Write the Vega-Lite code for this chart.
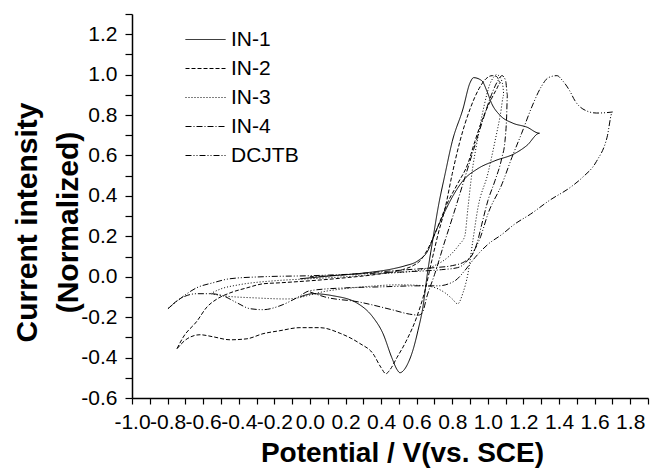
{
  "$schema": "https://vega.github.io/schema/vega-lite/v6.json",
  "width": 516,
  "height": 384,
  "autosize": "none",
  "padding": {"left": 132, "top": 14, "right": 2, "bottom": 70},
  "background": "white",
  "config": {"view": {"stroke": null}, "font": "Liberation Sans"},
  "datasets": {
    "cv": [
      {"s":"IN-1","o":1,"x":-0.056,"y":-0.01},{"s":"IN-1","o":2,"x":0.13,"y":0.005},{"s":"IN-1","o":3,"x":0.32,"y":0.02},{"s":"IN-1","o":4,"x":0.47,"y":0.04},{"s":"IN-1","o":5,"x":0.534,"y":0.054},{"s":"IN-1","o":6,"x":0.607,"y":0.079},{"s":"IN-1","o":7,"x":0.663,"y":0.129},{"s":"IN-1","o":8,"x":0.702,"y":0.213},{"s":"IN-1","o":9,"x":0.742,"y":0.292},{"s":"IN-1","o":10,"x":0.798,"y":0.391},{"s":"IN-1","o":11,"x":0.86,"y":0.475},{"s":"IN-1","o":12,"x":0.944,"y":0.535},{"s":"IN-1","o":13,"x":1.04,"y":0.574},{"s":"IN-1","o":14,"x":1.15,"y":0.609},{"s":"IN-1","o":15,"x":1.22,"y":0.65},{"s":"IN-1","o":16,"x":1.29,"y":0.71},{"s":"IN-1","o":17,"x":1.22,"y":0.74},{"s":"IN-1","o":18,"x":1.14,"y":0.76},{"s":"IN-1","o":19,"x":1.067,"y":0.8},{"s":"IN-1","o":20,"x":1.022,"y":0.856},{"s":"IN-1","o":21,"x":0.994,"y":0.92},{"s":"IN-1","o":22,"x":0.966,"y":0.97},{"s":"IN-1","o":23,"x":0.92,"y":0.985},{"s":"IN-1","o":24,"x":0.9,"y":0.96},{"s":"IN-1","o":25,"x":0.86,"y":0.83},{"s":"IN-1","o":26,"x":0.8,"y":0.67},{"s":"IN-1","o":27,"x":0.76,"y":0.51},{"s":"IN-1","o":28,"x":0.72,"y":0.34},{"s":"IN-1","o":29,"x":0.69,"y":0.18},{"s":"IN-1","o":30,"x":0.66,"y":0.015},{"s":"IN-1","o":31,"x":0.635,"y":-0.15},{"s":"IN-1","o":32,"x":0.607,"y":-0.267},{"s":"IN-1","o":33,"x":0.58,"y":-0.36},{"s":"IN-1","o":34,"x":0.55,"y":-0.43},{"s":"IN-1","o":35,"x":0.525,"y":-0.465},{"s":"IN-1","o":36,"x":0.506,"y":-0.475},{"s":"IN-1","o":37,"x":0.49,"y":-0.46},{"s":"IN-1","o":38,"x":0.46,"y":-0.4},{"s":"IN-1","o":39,"x":0.41,"y":-0.28},{"s":"IN-1","o":40,"x":0.354,"y":-0.2},{"s":"IN-1","o":41,"x":0.264,"y":-0.13},{"s":"IN-1","o":42,"x":0.129,"y":-0.094},{"s":"IN-1","o":43,"x":0.017,"y":-0.084},{"s":"IN-1","o":44,"x":-0.056,"y":-0.1},

      {"s":"IN-2","o":1,"x":-0.747,"y":-0.356},{"s":"IN-2","o":2,"x":-0.713,"y":-0.3},{"s":"IN-2","o":3,"x":-0.635,"y":-0.22},{"s":"IN-2","o":4,"x":-0.579,"y":-0.15},{"s":"IN-2","o":5,"x":-0.522,"y":-0.11},{"s":"IN-2","o":6,"x":-0.449,"y":-0.08},{"s":"IN-2","o":7,"x":-0.354,"y":-0.055},{"s":"IN-2","o":8,"x":-0.264,"y":-0.035},{"s":"IN-2","o":9,"x":-0.169,"y":-0.03},{"s":"IN-2","o":10,"x":0.0,"y":-0.02},{"s":"IN-2","o":11,"x":0.2,"y":-0.005},{"s":"IN-2","o":12,"x":0.4,"y":0.015},{"s":"IN-2","o":13,"x":0.52,"y":0.035},{"s":"IN-2","o":14,"x":0.58,"y":0.055},{"s":"IN-2","o":15,"x":0.62,"y":0.08},{"s":"IN-2","o":16,"x":0.67,"y":0.15},{"s":"IN-2","o":17,"x":0.72,"y":0.25},{"s":"IN-2","o":18,"x":0.77,"y":0.36},{"s":"IN-2","o":19,"x":0.83,"y":0.46},{"s":"IN-2","o":20,"x":0.888,"y":0.56},{"s":"IN-2","o":21,"x":0.927,"y":0.67},{"s":"IN-2","o":22,"x":0.97,"y":0.78},{"s":"IN-2","o":23,"x":1.02,"y":0.88},{"s":"IN-2","o":24,"x":1.05,"y":0.93},{"s":"IN-2","o":25,"x":1.07,"y":0.96},{"s":"IN-2","o":26,"x":1.05,"y":0.99},{"s":"IN-2","o":27,"x":1.025,"y":0.995},{"s":"IN-2","o":28,"x":0.99,"y":0.98},{"s":"IN-2","o":29,"x":0.95,"y":0.93},{"s":"IN-2","o":30,"x":0.9,"y":0.83},{"s":"IN-2","o":31,"x":0.843,"y":0.67},{"s":"IN-2","o":32,"x":0.8,"y":0.51},{"s":"IN-2","o":33,"x":0.76,"y":0.34},{"s":"IN-2","o":34,"x":0.72,"y":0.21},{"s":"IN-2","o":35,"x":0.685,"y":0.08},{"s":"IN-2","o":36,"x":0.646,"y":-0.07},{"s":"IN-2","o":37,"x":0.6,"y":-0.2},{"s":"IN-2","o":38,"x":0.54,"y":-0.32},{"s":"IN-2","o":39,"x":0.489,"y":-0.4},{"s":"IN-2","o":40,"x":0.45,"y":-0.46},{"s":"IN-2","o":41,"x":0.427,"y":-0.48},{"s":"IN-2","o":42,"x":0.4,"y":-0.45},{"s":"IN-2","o":43,"x":0.354,"y":-0.38},{"s":"IN-2","o":44,"x":0.28,"y":-0.33},{"s":"IN-2","o":45,"x":0.17,"y":-0.28},{"s":"IN-2","o":46,"x":0.056,"y":-0.252},{"s":"IN-2","o":47,"x":-0.056,"y":-0.252},{"s":"IN-2","o":48,"x":-0.169,"y":-0.267},{"s":"IN-2","o":49,"x":-0.264,"y":-0.282},{"s":"IN-2","o":50,"x":-0.354,"y":-0.307},{"s":"IN-2","o":51,"x":-0.449,"y":-0.312},{"s":"IN-2","o":52,"x":-0.545,"y":-0.297},{"s":"IN-2","o":53,"x":-0.618,"y":-0.287},{"s":"IN-2","o":54,"x":-0.69,"y":-0.307},{"s":"IN-2","o":55,"x":-0.747,"y":-0.356},

      {"s":"IN-3","o":1,"x":-0.56,"y":-0.084},{"s":"IN-3","o":2,"x":-0.5,"y":-0.06},{"s":"IN-3","o":3,"x":-0.4,"y":-0.04},{"s":"IN-3","o":4,"x":-0.2,"y":-0.02},{"s":"IN-3","o":5,"x":0.0,"y":-0.01},{"s":"IN-3","o":6,"x":0.2,"y":0.0},{"s":"IN-3","o":7,"x":0.4,"y":0.015},{"s":"IN-3","o":8,"x":0.6,"y":0.03},{"s":"IN-3","o":9,"x":0.7,"y":0.055},{"s":"IN-3","o":10,"x":0.78,"y":0.1},{"s":"IN-3","o":11,"x":0.84,"y":0.16},{"s":"IN-3","o":12,"x":0.87,"y":0.2},{"s":"IN-3","o":13,"x":0.888,"y":0.34},{"s":"IN-3","o":14,"x":0.91,"y":0.51},{"s":"IN-3","o":15,"x":0.94,"y":0.67},{"s":"IN-3","o":16,"x":0.98,"y":0.85},{"s":"IN-3","o":17,"x":1.01,"y":0.95},{"s":"IN-3","o":18,"x":1.035,"y":0.99},{"s":"IN-3","o":19,"x":1.05,"y":1.0},{"s":"IN-3","o":20,"x":1.07,"y":0.985},{"s":"IN-3","o":21,"x":1.085,"y":0.94},{"s":"IN-3","o":22,"x":1.09,"y":0.9},{"s":"IN-3","o":23,"x":1.07,"y":0.8},{"s":"IN-3","o":24,"x":1.04,"y":0.67},{"s":"IN-3","o":25,"x":1.0,"y":0.51},{"s":"IN-3","o":26,"x":0.944,"y":0.34},{"s":"IN-3","o":27,"x":0.916,"y":0.18},{"s":"IN-3","o":28,"x":0.888,"y":0.015},{"s":"IN-3","o":29,"x":0.86,"y":-0.08},{"s":"IN-3","o":30,"x":0.83,"y":-0.134},{"s":"IN-3","o":31,"x":0.8,"y":-0.11},{"s":"IN-3","o":32,"x":0.76,"y":-0.08},{"s":"IN-3","o":33,"x":0.72,"y":-0.06},{"s":"IN-3","o":34,"x":0.65,"y":-0.045},{"s":"IN-3","o":35,"x":0.5,"y":-0.04},{"s":"IN-3","o":36,"x":0.3,"y":-0.05},{"s":"IN-3","o":37,"x":0.1,"y":-0.07},{"s":"IN-3","o":38,"x":-0.13,"y":-0.11},{"s":"IN-3","o":39,"x":-0.3,"y":-0.105},{"s":"IN-3","o":40,"x":-0.49,"y":-0.094},{"s":"IN-3","o":41,"x":-0.56,"y":-0.084},

      {"s":"IN-4","o":1,"x":0.0,"y":-0.075},{"s":"IN-4","o":2,"x":0.084,"y":-0.1},{"s":"IN-4","o":3,"x":0.27,"y":-0.124},{"s":"IN-4","o":4,"x":0.46,"y":-0.163},{"s":"IN-4","o":5,"x":0.56,"y":-0.185},{"s":"IN-4","o":6,"x":0.61,"y":-0.19},{"s":"IN-4","o":7,"x":0.63,"y":-0.18},{"s":"IN-4","o":8,"x":0.66,"y":-0.09},{"s":"IN-4","o":9,"x":0.7,"y":0.01},{"s":"IN-4","o":10,"x":0.73,"y":0.094},{"s":"IN-4","o":11,"x":0.747,"y":0.144},{"s":"IN-4","o":12,"x":0.8,"y":0.29},{"s":"IN-4","o":13,"x":0.86,"y":0.46},{"s":"IN-4","o":14,"x":0.92,"y":0.63},{"s":"IN-4","o":15,"x":0.97,"y":0.77},{"s":"IN-4","o":16,"x":1.02,"y":0.9},{"s":"IN-4","o":17,"x":1.05,"y":0.96},{"s":"IN-4","o":18,"x":1.08,"y":0.995},{"s":"IN-4","o":19,"x":1.1,"y":0.97},{"s":"IN-4","o":20,"x":1.11,"y":0.9},{"s":"IN-4","o":21,"x":1.105,"y":0.78},{"s":"IN-4","o":22,"x":1.096,"y":0.67},{"s":"IN-4","o":23,"x":1.079,"y":0.59},{"s":"IN-4","o":24,"x":1.04,"y":0.475},{"s":"IN-4","o":25,"x":1.0,"y":0.376},{"s":"IN-4","o":26,"x":0.966,"y":0.26},{"s":"IN-4","o":27,"x":0.938,"y":0.163},{"s":"IN-4","o":28,"x":0.916,"y":0.114},{"s":"IN-4","o":29,"x":0.87,"y":0.075},{"s":"IN-4","o":30,"x":0.8,"y":0.055},{"s":"IN-4","o":31,"x":0.7,"y":0.045},{"s":"IN-4","o":32,"x":0.55,"y":0.035},{"s":"IN-4","o":33,"x":0.4,"y":0.025},{"s":"IN-4","o":34,"x":0.2,"y":0.01},{"s":"IN-4","o":35,"x":0.0,"y":0.0},

      {"s":"DCJTB","o":1,"x":-0.798,"y":-0.158},{"s":"DCJTB","o":2,"x":-0.73,"y":-0.109},{"s":"DCJTB","o":3,"x":-0.635,"y":-0.054},{"s":"DCJTB","o":4,"x":-0.545,"y":-0.03},{"s":"DCJTB","o":5,"x":-0.45,"y":-0.01},{"s":"DCJTB","o":6,"x":-0.264,"y":0.0},{"s":"DCJTB","o":7,"x":0.0,"y":0.005},{"s":"DCJTB","o":8,"x":0.3,"y":0.015},{"s":"DCJTB","o":9,"x":0.55,"y":0.025},{"s":"DCJTB","o":10,"x":0.74,"y":0.035},{"s":"DCJTB","o":11,"x":0.83,"y":0.045},{"s":"DCJTB","o":12,"x":0.91,"y":0.11},{"s":"DCJTB","o":13,"x":0.96,"y":0.2},{"s":"DCJTB","o":14,"x":1.0,"y":0.31},{"s":"DCJTB","o":15,"x":1.08,"y":0.46},{"s":"DCJTB","o":16,"x":1.135,"y":0.59},{"s":"DCJTB","o":17,"x":1.19,"y":0.71},{"s":"DCJTB","o":18,"x":1.247,"y":0.84},{"s":"DCJTB","o":19,"x":1.3,"y":0.94},{"s":"DCJTB","o":20,"x":1.34,"y":0.985},{"s":"DCJTB","o":21,"x":1.388,"y":0.995},{"s":"DCJTB","o":22,"x":1.42,"y":0.97},{"s":"DCJTB","o":23,"x":1.46,"y":0.92},{"s":"DCJTB","o":24,"x":1.49,"y":0.87},{"s":"DCJTB","o":25,"x":1.534,"y":0.83},{"s":"DCJTB","o":26,"x":1.61,"y":0.81},{"s":"DCJTB","o":27,"x":1.7,"y":0.815},{"s":"DCJTB","o":28,"x":1.67,"y":0.69},{"s":"DCJTB","o":29,"x":1.61,"y":0.57},{"s":"DCJTB","o":30,"x":1.53,"y":0.49},{"s":"DCJTB","o":31,"x":1.46,"y":0.44},{"s":"DCJTB","o":32,"x":1.35,"y":0.38},{"s":"DCJTB","o":33,"x":1.24,"y":0.31},{"s":"DCJTB","o":34,"x":1.15,"y":0.26},{"s":"DCJTB","o":35,"x":1.08,"y":0.21},{"s":"DCJTB","o":36,"x":1.0,"y":0.16},{"s":"DCJTB","o":37,"x":0.927,"y":0.094},{"s":"DCJTB","o":38,"x":0.87,"y":0.03},{"s":"DCJTB","o":39,"x":0.815,"y":-0.02},{"s":"DCJTB","o":40,"x":0.72,"y":-0.045},{"s":"DCJTB","o":41,"x":0.607,"y":-0.045},{"s":"DCJTB","o":42,"x":0.4,"y":-0.05},{"s":"DCJTB","o":43,"x":0.2,"y":-0.055},{"s":"DCJTB","o":44,"x":0.0,"y":-0.069},{"s":"DCJTB","o":45,"x":-0.073,"y":-0.104},{"s":"DCJTB","o":46,"x":-0.169,"y":-0.144},{"s":"DCJTB","o":47,"x":-0.264,"y":-0.163},{"s":"DCJTB","o":48,"x":-0.337,"y":-0.158},{"s":"DCJTB","o":49,"x":-0.41,"y":-0.129},{"s":"DCJTB","o":50,"x":-0.49,"y":-0.094},{"s":"DCJTB","o":51,"x":-0.56,"y":-0.084},{"s":"DCJTB","o":52,"x":-0.635,"y":-0.084},{"s":"DCJTB","o":53,"x":-0.73,"y":-0.109},{"s":"DCJTB","o":54,"x":-0.798,"y":-0.158}
    ]
  },
  "data": {"name": "cv"},
  "mark": {"type": "line", "color": "black", "strokeWidth": 1, "interpolate": "monotone"},
  "encoding": {
    "x": {
      "field": "x", "type": "quantitative",
      "scale": {"domain": [-1.0, 1.9], "nice": false, "zero": false},
      "axis": {
        "title": "Potential / V(vs. SCE)",
        "values": [-1.0,-0.9,-0.8,-0.7,-0.6,-0.5,-0.4,-0.3,-0.2,-0.1,0,0.1,0.2,0.3,0.4,0.5,0.6,0.7,0.8,0.9,1.0,1.1,1.2,1.3,1.4,1.5,1.6,1.7,1.8,1.9],
        "labelExpr": "round(datum.value*10) % 2 == 0 ? replace(format(datum.value, '.1f'), '\u2212', '-') : ''",
        "labelOverlap": false, "labelFlush": false, "labelBound": false,
        "labelFontSize": 21, "labelColor": "black", "labelFont": "Liberation Sans", "labelPadding": 7,
        "tickSize": 6, "tickColor": "black", "tickWidth": 1.2,
        "domainColor": "black", "domainWidth": 1.5, "grid": false,
        "titleFont": "Liberation Sans", "titleFontSize": 28, "titleFontWeight": "bold", "titleColor": "black",
        "titleX": 270, "titleY": 63, "titleBaseline": "alphabetic", "titleAlign": "center"
      }
    },
    "y": {
      "field": "y", "type": "quantitative",
      "scale": {"domain": [-0.6, 1.3], "nice": false, "zero": false},
      "axis": {
        "title": ["Current intensity", "(Normalized)"],
        "values": [-0.6,-0.5,-0.4,-0.3,-0.2,-0.1,0,0.1,0.2,0.3,0.4,0.5,0.6,0.7,0.8,0.9,1.0,1.1,1.2,1.3],
        "labelExpr": "round(datum.value*10) % 2 == 0 ? replace(format(datum.value, '.1f'), '\u2212', '-') : ''",
        "labelOverlap": false, "labelFlush": false, "labelBound": false,
        "labelFontSize": 21, "labelColor": "black", "labelFont": "Liberation Sans", "labelPadding": 8,
        "tickSize": 7, "tickColor": "black", "tickWidth": 1.2,
        "domainColor": "black", "domainWidth": 1.5, "grid": false,
        "titleFont": "Liberation Sans", "titleFontSize": 30, "titleFontWeight": "bold", "titleColor": "black",
        "titleAngle": -90, "titleX": -96, "titleY": 208, "titleBaseline": "alphabetic", "titleAlign": "center", "titleLineHeight": 41
      }
    },
    "strokeDash": {
      "field": "s", "type": "nominal",
      "scale": {"domain": ["IN-1","IN-2","IN-3","IN-4","DCJTB"], "range": [[1,0],[4,2],[1,2],[6,2,1,2],[6,2,1,2,1,2]]},
      "legend": {
        "title": null, "orient": "none", "legendX": 63, "legendY": 15,
        "symbolType": "M-4,0H4", "symbolSize": 100, "symbolStrokeWidth": 1, "symbolStrokeColor": "black",
        "labelFontSize": 21, "labelFont": "Liberation Sans", "labelColor": "black", "labelOffset": 15,
        "rowPadding": 7, "padding": 0
      }
    },
    "order": {"field": "o", "type": "quantitative"}
  }
}
